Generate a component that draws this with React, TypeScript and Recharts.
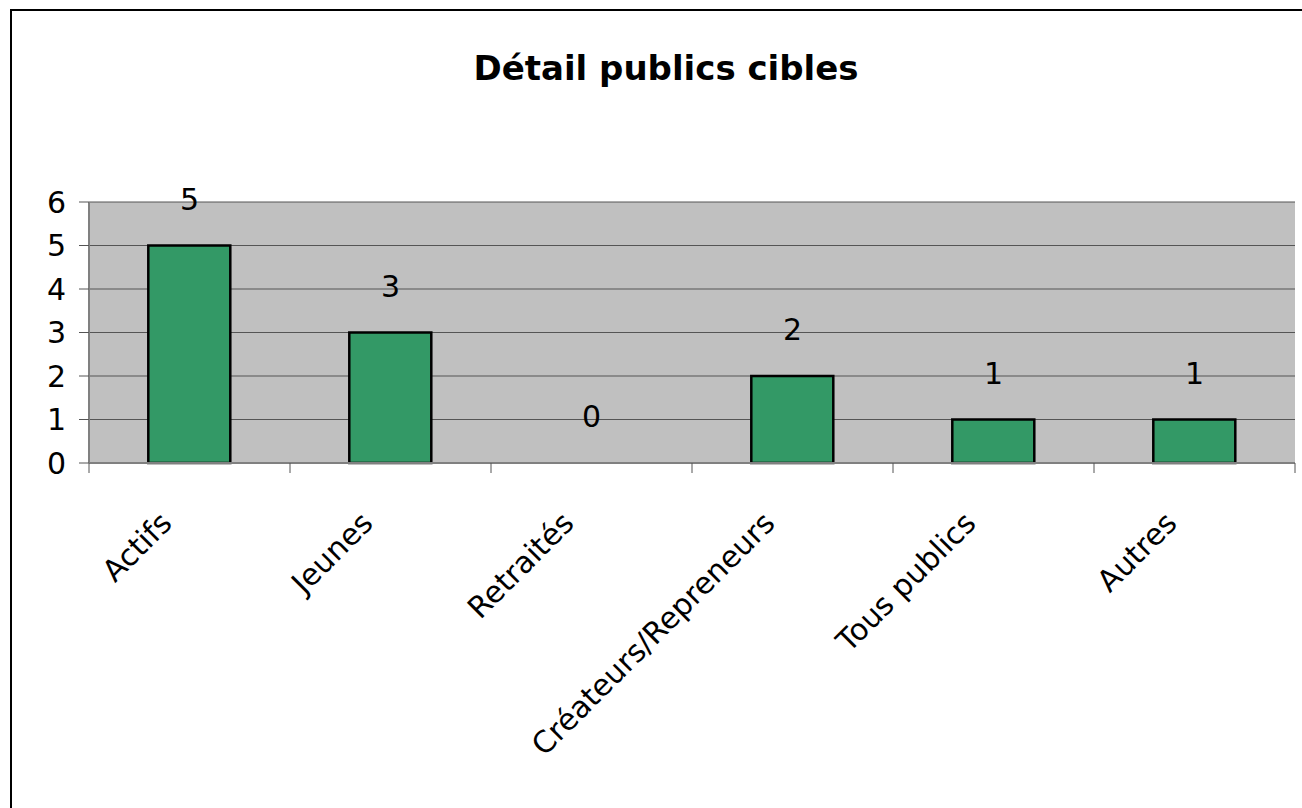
import React from 'react';
import { ComposedChart, Bar, Line, XAxis, YAxis, CartesianGrid, LabelList } from 'recharts';

const categories = ['Actifs', 'Jeunes', 'Retraités', 'Créateurs/Repreneurs', 'Tous publics', 'Autres'];
const values = [5, 3, 0, 2, 1, 1];
const yTicks = [0, 1, 2, 3, 4, 5, 6];

const data = categories.map((name, i) => ({ name, value: values[i] }));

const FONT = '"DejaVu Sans", Verdana, sans-serif';
const LABEL_SIZE = 30;

// category ticks: label rotated, tick marks drawn on the band edges like Excel
const XTick = (props: any) => {
  const { x, y, payload, index } = props;
  const half = payload && payload.offset ? payload.offset : 0;
  const last = index === categories.length - 1;
  return (
    <g>
      <line x1={x - half} x2={x - half} y1={y} y2={y + 10} stroke="#555" />
      {last && <line x1={x + half} x2={x + half} y1={y} y2={y + 10} stroke="#555" />}
      <text
        transform={`translate(${x - 16},${y + 62}) rotate(-45)`}
        textAnchor="end"
        fontFamily={FONT}
        fontSize={LABEL_SIZE}
        fill="#000"
      >
        {payload.value}
      </text>
    </g>
  );
};

const App: React.FC = () => {
  return (
    <div style={{ position: 'absolute', left: 0, top: 0, width: 1302, height: 808, background: '#fff', overflow: 'hidden' }}>
      <svg width={1302} height={808} style={{ position: 'absolute', left: 0, top: 0 }}>
        <line x1={11} y1={10} x2={11} y2={808} stroke="#000" strokeWidth={2} />
        <line x1={10} y1={10} x2={1302} y2={10} stroke="#000" strokeWidth={2} />
        <text x={666} y={80} textAnchor="middle" fontFamily={FONT} fontWeight="bold" fontSize={34} fill="#000">
          Détail publics cibles
        </text>
      </svg>
      <div style={{ position: 'absolute', left: 0, top: 0 }}>
        <ComposedChart
          width={1302}
          height={808}
          data={data}
          margin={{ top: 202, right: 7, bottom: 285, left: 29 }}
          barCategoryGap="29.5%"
        >
          <CartesianGrid vertical={false} fill="#c0c0c0" stroke="#555" fillOpacity={1} />
          <XAxis
            dataKey="name"
            height={60}
            interval={0}
            tickSize={0}
            tickMargin={0}
            tickLine={false}
            axisLine={{ stroke: '#808080', strokeWidth: 2 }}
            tick={<XTick />}
          />
          <YAxis
            width={60}
            domain={[0, 6]}
            ticks={yTicks}
            interval={0}
            tickSize={10}
            tickMargin={13}
            axisLine={{ stroke: '#808080', strokeWidth: 2 }}
            tickLine={{ stroke: '#555' }}
            tick={{ fontFamily: FONT, fontSize: LABEL_SIZE, fill: '#000' }}
          />
          <YAxis
            yAxisId="right"
            orientation="right"
            width={0}
            domain={[0, 6]}
            tick={false}
            tickLine={false}
            axisLine={{ stroke: '#808080', strokeWidth: 2 }}
          />
          <Bar dataKey="value" fill="#339966" stroke="#000" strokeWidth={2.5} isAnimationActive={false} />
          {/* invisible series only to carry the value labels (zero included) */}
          <Line
            dataKey="value"
            stroke="none"
            strokeOpacity={0}
            dot={false}
            activeDot={false}
            legendType="none"
            isAnimationActive={false}
          >
            <LabelList
              dataKey="value"
              position="top"
              offset={36}
              fill="#000"
              fontFamily={FONT}
              fontSize={LABEL_SIZE}
            />
          </Line>
        </ComposedChart>
      </div>
    </div>
  );
};

export default App;
